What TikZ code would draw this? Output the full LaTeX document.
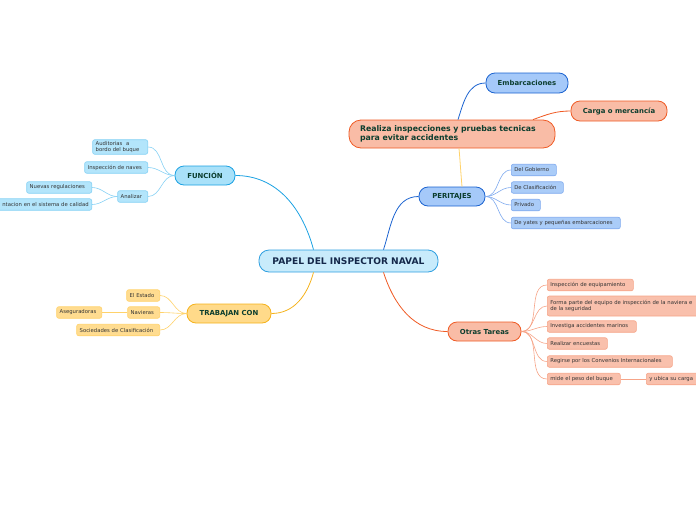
\documentclass[tikz,border=0pt]{standalone}
\usepackage{fontspec}
\setmainfont{DejaVu Sans}
\usetikzlibrary{positioning}

\definecolor{rootfill}{HTML}{C8EBFB}
\definecolor{rootline}{HTML}{2E9FE0}
\definecolor{roottext}{HTML}{14284A}
\definecolor{headtext}{HTML}{0B3D2E}
\definecolor{leaftext}{HTML}{333333}
\definecolor{funcfill}{HTML}{A9E1F9}
\definecolor{funcline}{HTML}{1BA1E2}
\definecolor{funcleaf}{HTML}{B3E5FB}
\definecolor{funcedge}{HTML}{86D1F4}
\definecolor{trabfill}{HTML}{FFDA8A}
\definecolor{trabline}{HTML}{F5B21B}
\definecolor{trableaf}{HTML}{FFDC90}
\definecolor{trabedge}{HTML}{FFD26A}
\definecolor{peritfill}{HTML}{A5C9F9}
\definecolor{peritline}{HTML}{1A62D0}
\definecolor{peritleaf}{HTML}{AACCF8}
\definecolor{peritedge}{HTML}{7FAAEE}
\definecolor{otrasfill}{HTML}{F9BCA6}
\definecolor{otrasline}{HTML}{EF5A24}
\definecolor{otrasleaf}{HTML}{F9C0AC}
\definecolor{otrasedge}{HTML}{F6A488}

\begin{document}
\begin{tikzpicture}[
    x=1pt, y=1pt,
    % Nodes
    root/.style={rectangle, rounded corners=10pt, draw=rootline, thick, fill=rootfill, text=roottext, font=\fontsize{9.1}{11}\selectfont\bfseries, minimum width=179pt, minimum height=22pt},
    topic/.style={rectangle, rounded corners=9pt, thick, text=headtext, font=\fontsize{6.9}{8.5}\selectfont\bfseries, minimum height=19pt, inner sep=2pt},
    leaf/.style={rectangle, rounded corners=2pt, semithick, text=leaftext, font=\fontsize{5.3}{6.4}\selectfont, align=left, minimum height=11.5pt, inner xsep=3pt, inner ysep=1.5pt},
    func/.style={topic, draw=funcline, fill=funcfill},
    trab/.style={topic, draw=trabline, fill=trabfill},
    perit/.style={topic, draw=peritline, fill=peritfill},
    otras/.style={topic, draw=otrasline, fill=otrasfill},
    funcleaf/.style={leaf, draw=funcedge, fill=funcleaf},
    trableaf/.style={leaf, draw=trabedge, fill=trableaf},
    peritleaf/.style={leaf, draw=peritedge, fill=peritleaf},
    otrasleaf/.style={leaf, draw=otrasedge, fill=otrasleaf},
    % Connectors
    link/.style={thick},
    twig/.style={semithick}
]

\useasboundingbox (0,0) rectangle (696,-520);
\clip (0,0) rectangle (696,-520);

% Center
\node[root] (papel) at (348.5,-261) {PAPEL DEL INSPECTOR NAVAL};

% Main topics
\node[func, minimum width=60pt] (funcion) at (205,-175.5) {FUNCIÓN};
\node[trab, minimum width=84pt] (trabajan) at (229,-313.5) {TRABAJAN CON};
\node[perit, minimum width=66pt] (peritajes) at (452,-196.5) {PERITAJES};
\node[otras, minimum width=73pt] (otras) at (484.5,-331.5) {Otras Tareas};
\node[otras, minimum height=28pt, rounded corners=12pt, font=\fontsize{7.8}{8.6}\selectfont\bfseries, text width=184pt, align=left, inner xsep=11pt] (realiza) at (452,-134) {Realiza inspecciones y pruebas tecnicas\\para evitar accidentes};
\node[perit, minimum width=82pt, minimum height=20pt] (embarc) at (527,-83) {Embarcaciones};
\node[otras, minimum width=96pt, minimum height=20pt] (carga) at (619,-111) {Carga o mercancía};

\draw[link, funcline] ([xshift=-35pt]papel.north) to[out=105, in=0] (funcion.east);
\draw[link, trabline] ([xshift=-35pt]papel.south) to[out=-105, in=0] (trabajan.east);
\draw[link, peritline] ([xshift=35pt]papel.north) to[out=72, in=180] (peritajes.west);
\draw[link, otrasline] ([xshift=35pt]papel.south) to[out=-72, in=180] (otras.west);
\draw[link, trabedge] ([xshift=10pt]peritajes.north) to[out=95, in=-85] ([xshift=7pt]realiza.south);
\draw[link, peritline] ([xshift=6pt]realiza.north) to[out=72, in=180] (embarc.west);
\draw[link, otrasline] ([xshift=81pt]realiza.north) to[out=20, in=180] (carga.west);

% FUNCION
\node[funcleaf, text width=49pt, anchor=east] (auditorias) at (148,-147) {Auditorias\ \ a\\bordo del buque};
\node[funcleaf, text width=57pt, anchor=east] (inspnaves) at (148,-167.5) {Inspección de naves};
\node[funcleaf, text width=24pt, anchor=east] (analizar) at (148,-196.5) {Analizar};
\node[funcleaf, text width=59pt, anchor=east] (nuevas) at (92,-187.5) {Nuevas regulaciones};
\node[funcleaf, text width=94pt, align=right, anchor=east] (calidad) at (92,-204.5) {ntacion en el sistema de calidad};
\foreach \leafname in {auditorias, inspnaves, analizar}
    \draw[twig, funcedge] (funcion.west) to[out=180, in=0] (\leafname.east);
\foreach \leafname in {nuevas, calidad}
    \draw[twig, funcedge] (analizar.west) to[out=180, in=0] (\leafname.east);

% TRABAJAN CON
\node[trableaf, text width=27pt, anchor=east] (estado) at (160,-295.5) {El Estado};
\node[trableaf, text width=26pt, anchor=east] (navieras) at (160,-312.5) {Navieras};
\node[trableaf, text width=77pt, anchor=east] (sociedades) at (160,-330) {Sociedades de Clasificación};
\node[trableaf, text width=39pt, anchor=east] (aseguradoras) at (102,-312.5) {Aseguradoras};
\foreach \leafname in {estado, navieras, sociedades}
    \draw[twig, trabedge] (trabajan.west) to[out=180, in=0] (\leafname.east);
\draw[twig, trabedge] (navieras) -- (aseguradoras);

% PERITAJES
\node[peritleaf, text width=39pt, anchor=west] (gobierno) at (511,-170) {Del Gobierno};
\node[peritleaf, text width=46pt, anchor=west] (clasif) at (511,-187.5) {De Clasificación};
\node[peritleaf, text width=23pt, anchor=west] (privado) at (511,-205) {Privado};
\node[peritleaf, text width=103pt, anchor=west] (yates) at (511,-223) {De yates y pequeñas embarcaciones};
\foreach \leafname in {gobierno, clasif, privado, yates}
    \draw[twig, peritedge] (peritajes.east) to[out=0, in=180] (\leafname.west);

% Otras Tareas
\node[otrasleaf, text width=80pt, anchor=west] (equipam) at (547,-285) {Inspección de equipamiento};
\node[otrasleaf, minimum height=20pt, text width=170pt, anchor=west] (forma) at (547,-306) {Forma parte del equipo de inspección de la naviera e\\de la seguridad};
\node[otrasleaf, text width=83pt, anchor=west] (investiga) at (547,-326.5) {Investiga accidentes marinos};
\node[otrasleaf, text width=54pt, anchor=west] (encuestas) at (547,-343.5) {Realizar encuestas};
\node[otrasleaf, text width=119pt, anchor=west] (convenios) at (547,-361.5) {Regirse por los Convenios Internacionales};
\node[otrasleaf, text width=67pt, anchor=west] (peso) at (547,-379) {mide el peso del buque};
\node[otrasleaf, text width=60pt, anchor=west] (ubica) at (646,-379) {y ubica su carga};
\foreach \leafname in {equipam, forma, investiga, encuestas, convenios, peso}
    \draw[twig, otrasedge] (otras.east) to[out=0, in=180] (\leafname.west);
\draw[twig, otrasedge] (peso) -- (ubica);

\end{tikzpicture}
\end{document}
